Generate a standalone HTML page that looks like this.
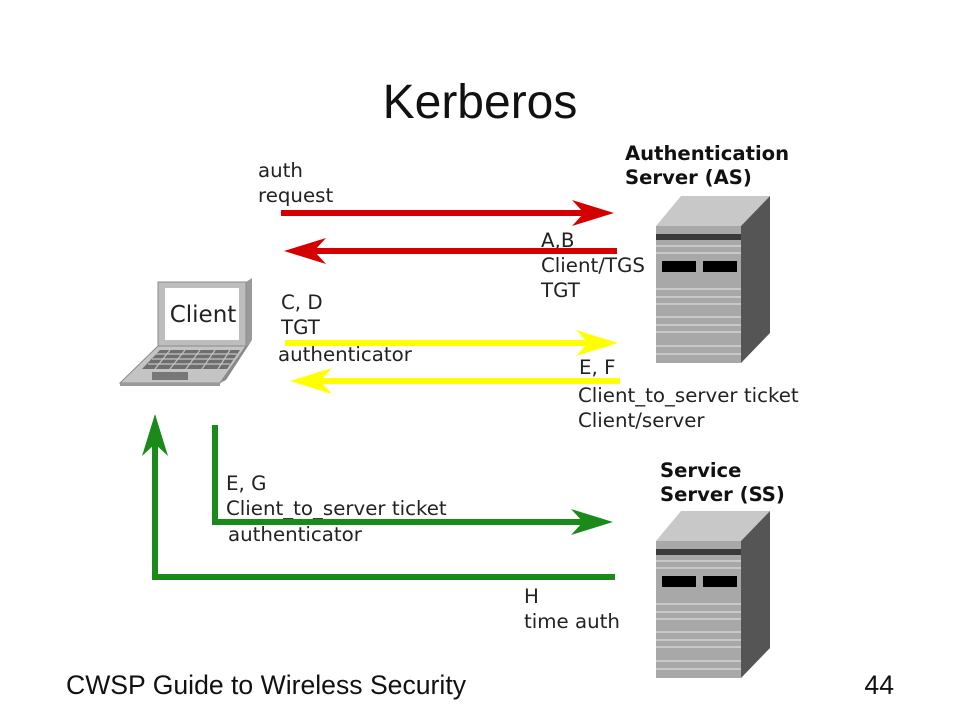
<!DOCTYPE html>
<html><head><meta charset="utf-8"><style>
html,body{margin:0;padding:0;background:#fff;}
svg{display:block}
.l{font-family:"DejaVu Sans",sans-serif;font-size:19.8px;fill:#222}
.b{font-family:"DejaVu Sans",sans-serif;font-size:19.6px;font-weight:bold;fill:#111}
.t{font-family:"Liberation Sans",sans-serif;fill:#111}
</style></head><body>
<svg width="960" height="720" viewBox="0 0 960 720" xmlns="http://www.w3.org/2000/svg">
<rect width="960" height="720" fill="#fff"/>
<text class="t" x="480" y="118" font-size="48" text-anchor="middle">Kerberos</text>

<text class="l" x="258" y="177">auth</text>
<text class="l" x="258" y="202">request</text>
<text class="b" x="625" y="160">Authentication</text>
<text class="b" x="625" y="184">Server (AS)</text>
<text class="l" x="541" y="247">A,B</text>
<text class="l" x="541" y="272">Client/TGS</text>
<text class="l" x="541" y="297">TGT</text>
<text class="l" x="281" y="309">C, D</text>
<text class="l" x="281" y="334">TGT</text>
<text class="l" x="278" y="361">authenticator</text>
<text class="l" x="579" y="374">E, F</text>
<text class="l" x="578" y="402">Client_to_server ticket</text>
<text class="l" x="578" y="427">Client/server</text>
<text class="b" x="660" y="477">Service</text>
<text class="b" x="660" y="501">Server (SS)</text>
<text class="l" x="226" y="490">E, G</text>
<text class="l" x="226" y="515">Client_to_server ticket</text>
<text class="l" x="228" y="541">authenticator</text>
<text class="l" x="524" y="603">H</text>
<text class="l" x="524" y="628">time auth</text>

<g stroke-width="6" fill="none">
<line x1="281" y1="213" x2="590" y2="213" stroke="#d40000"/>
<line x1="617" y1="251" x2="305" y2="251" stroke="#d40000"/>
<line x1="285" y1="343" x2="595" y2="343" stroke="#ffff00"/>
<line x1="620" y1="381" x2="310" y2="381" stroke="#ffff00"/>
<polyline points="215,425 215,522 590,522" stroke="#1a8a1a"/>
<polyline points="615,577 155,577 155,440" stroke="#1a8a1a"/>
</g>
<path d="M614,213 L572,200 L584,213 L572,226 Z" fill="#d40000"/>
<path d="M284,251 L326,238 L314,251 L326,264 Z" fill="#d40000"/>
<path d="M618,343 L576,330 L588,343 L576,356 Z" fill="#ffff00"/>
<path d="M290,381 L332,368 L320,381 L332,394 Z" fill="#ffff00"/>
<path d="M613,522 L571,509 L583,522 L571,535 Z" fill="#1a8a1a"/>
<path d="M155,414 L142,456 L155,444 L168,456 Z" fill="#1a8a1a"/>

<g>
<path d="M158,282 L246,282 L252,278 L252,340 L246,346 L158,346 Z" fill="#9a9a9a"/>
<rect x="158" y="282" width="88" height="64" fill="#bdbdbd" stroke="#8a8a8a"/>
<rect x="165" y="288" width="74" height="52" fill="#fff"/>
<text x="203" y="322" font-family="DejaVu Sans,sans-serif" font-size="23" text-anchor="middle" fill="#222">Client</text>
<path d="M158,346 L246,346 L220,383 L120,383 Z" fill="#c4c4c4" stroke="#8a8a8a"/>
<path d="M246,346 L252,340 L226,380 L220,383 Z" fill="#8a8a8a"/>
<path d="M120,383 L220,383 L220,386 L120,386 Z" fill="#9a9a9a"/>
<path d="M160,350 L240,350 L227,369 L142,369 Z" fill="#6e6e6e"/>
<g stroke="#c4c4c4" stroke-width="1.2">
<line x1="155" y1="354" x2="237" y2="354"/><line x1="152" y1="359" x2="234" y2="359"/><line x1="148" y1="364" x2="230" y2="364"/>
<line x1="170" y1="350" x2="155" y2="369"/><line x1="185" y1="350" x2="170" y2="369"/><line x1="200" y1="350" x2="186" y2="369"/><line x1="215" y1="350" x2="202" y2="369"/><line x1="230" y1="350" x2="218" y2="369"/>
</g>
<rect x="152" y="372" width="36" height="8" fill="#777"/>
</g>

<g>
<path d="M656,226 L681,196 L770,196 L741,226 Z" fill="#c8c8c8"/>
<path d="M741,226 L770,196 L770,333 L741,363 Z" fill="#555"/>
<rect x="656" y="226" width="85" height="137" fill="#a8a8a8"/>
<rect x="656" y="234" width="85" height="6" fill="#3a3a3a"/>
<g fill="#c8c8c8"><rect x="656" y="245" width="85" height="2"/><rect x="656" y="252" width="85" height="2"/><rect x="656" y="288" width="85" height="2"/><rect x="656" y="296" width="85" height="2"/><rect x="656" y="303" width="85" height="2"/><rect x="656" y="316" width="85" height="2"/><rect x="656" y="324" width="85" height="2"/><rect x="656" y="331" width="85" height="2"/><rect x="656" y="345" width="85" height="2"/><rect x="656" y="353" width="85" height="2"/></g>
<rect x="662" y="261" width="34" height="11" fill="#000"/>
<rect x="703" y="261" width="34" height="11" fill="#000"/>
</g>

<g>
<path d="M656,541 L681,511 L770,511 L741,541 Z" fill="#c8c8c8"/>
<path d="M741,541 L770,511 L770,648 L741,678 Z" fill="#555"/>
<rect x="656" y="541" width="85" height="137" fill="#a8a8a8"/>
<rect x="656" y="549" width="85" height="6" fill="#3a3a3a"/>
<g fill="#c8c8c8"><rect x="656" y="560" width="85" height="2"/><rect x="656" y="567" width="85" height="2"/><rect x="656" y="603" width="85" height="2"/><rect x="656" y="611" width="85" height="2"/><rect x="656" y="618" width="85" height="2"/><rect x="656" y="631" width="85" height="2"/><rect x="656" y="639" width="85" height="2"/><rect x="656" y="646" width="85" height="2"/><rect x="656" y="660" width="85" height="2"/><rect x="656" y="668" width="85" height="2"/></g>
<rect x="662" y="576" width="34" height="11" fill="#000"/>
<rect x="703" y="576" width="34" height="11" fill="#000"/>
</g>

<text class="t" x="66" y="694" font-size="26.6">CWSP Guide to Wireless Security</text>
<text class="t" x="894" y="694" font-size="26.6" text-anchor="end">44</text>
</svg>
</body></html>
